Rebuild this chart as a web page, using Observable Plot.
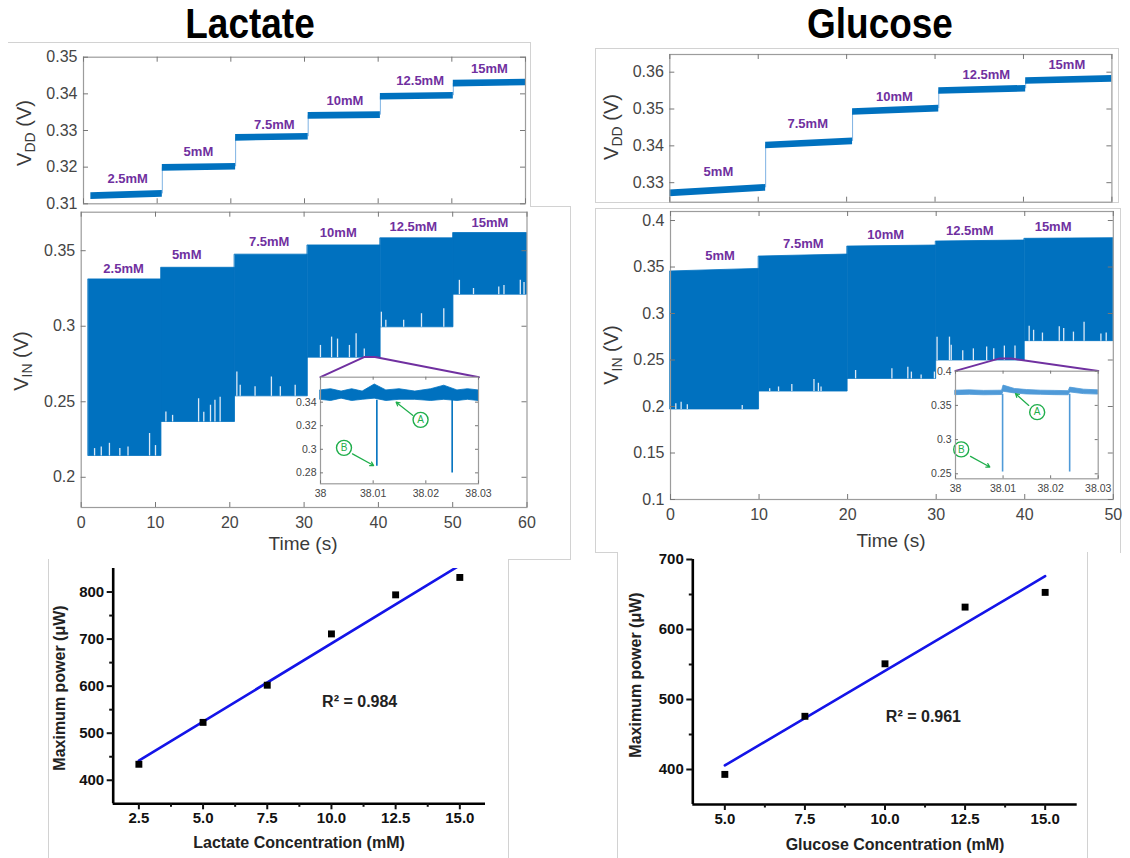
<!DOCTYPE html>
<html><head><meta charset="utf-8">
<script src="https://cdn.jsdelivr.net/npm/d3@7"></script>
<script src="https://cdn.jsdelivr.net/npm/@observablehq/plot@0.6"></script>
<style>
body{margin:0;background:#fff;}
#page{position:relative;width:1130px;height:858px;overflow:hidden;background:#fff;font-family:"Liberation Sans",Arial,sans-serif;}
.layer{position:absolute;left:0;top:0;width:1130px;height:858px;}
.fr{position:absolute;border:0 solid #d2d2d2;box-sizing:border-box;}
.title{position:absolute;top:0px;font-family:"Liberation Sans",Arial,sans-serif;font-weight:bold;font-size:42px;line-height:1.15;color:#000;transform:translateX(-50%) scaleX(0.88);white-space:nowrap;}
.ylab{position:absolute;transform:translate(-50%,-50%) rotate(-90deg);white-space:nowrap;color:#3a3a3a;font-size:20px;line-height:1;}
.ylab sub{font-size:14px;vertical-align:-4px;}
.xlab{position:absolute;transform:translate(-50%,-50%);white-space:nowrap;color:#3a3a3a;font-size:19px;line-height:1;}
.blab{position:absolute;transform:translate(-50%,-50%);white-space:nowrap;color:#222;font-size:16px;font-weight:bold;line-height:1;}
.blabr{position:absolute;transform:translate(-50%,-50%) rotate(-90deg);white-space:nowrap;color:#222;font-size:16px;font-weight:bold;line-height:1;}
</style></head>
<body><div id="page"></div>
<script>
// ---------------- DATA ----------------
// Lactate
const lacConc = ["2.5mM","5mM","7.5mM","10mM","12.5mM","15mM"];
const lacVddT0 = [1.0, 10.7, 20.65, 30.5, 40.3, 50.2];
const lacVddT1 = [10.7, 20.65, 30.5, 40.3, 50.2, 60];
const lacVdd0 = [0.3121, 0.3198, 0.3280, 0.3340, 0.3392, 0.3428];
const lacVdd1 = [0.3127, 0.3201, 0.3283, 0.3342, 0.3395, 0.3431];
const lacVddNoise = 0.0009;
const lacVddLabT = [6.0, 15.6, 25.9, 35.5, 45.7, 55.1];
const lacVddLabV = [0.3168, 0.3243, 0.3316, 0.3382, 0.3436, 0.3468];

const lacVinT0 = [1.0, 10.8, 20.7, 30.5, 40.3, 50.1];
const lacVinT1 = [10.8, 20.7, 30.5, 40.3, 50.1, 60];
const lacVinTop = [0.3310, 0.3387, 0.3474, 0.3535, 0.3582, 0.3617];
const lacVinBot = [0.2141, 0.2366, 0.2536, 0.2792, 0.2993, 0.3209];
const lacVinLabT = [5.7, 14.2, 25.3, 34.6, 44.7, 55.0];
const lacVinLabV = [0.3381, 0.3474, 0.3562, 0.3619, 0.3657, 0.3685];
const lacSpikeT = [1.8,2.7,3.8,5.2,6.3,9.2,10.0, 11.4,12.3,15.8,16.5,17.4,18.0,18.7, 20.95,21.4,23.4,25.6,26.8,28.8, 32.2,33.7,34.5,36.1,37.0,38.1, 40.4,41.0,43.4,45.8,48.8, 50.9,52.8,56.2,56.9,59.1,59.6];
const lacSpikeV = [0.2190,0.2200,0.2225,0.2190,0.2200,0.2290,0.2210, 0.2432,0.2410,0.2520,0.2430,0.2477,0.2510,0.2530, 0.2697,0.2610,0.2600,0.2664,0.2600,0.2610, 0.2873,0.2928,0.2915,0.2873,0.2951,0.2850, 0.3093,0.3040,0.3040,0.3083,0.3116, 0.3304,0.3250,0.3260,0.3270,0.3304,0.3290];
const lacZoomT = [32.2, 38.07, 39.54, 53.54];
const lacZoomV = [0.2663, 0.2796, 0.2796, 0.2663];

const lacInT  = [38.000,38.002,38.004,38.006,38.008,38.0103,38.0125,38.015,38.018,38.021,38.0235,38.026,38.028,38.030];
const lacInHi = [0.350,0.351,0.349,0.351,0.349,0.355,0.350,0.351,0.349,0.351,0.354,0.350,0.351,0.350];
const lacInLo = [0.342,0.341,0.343,0.341,0.342,0.343,0.341,0.342,0.342,0.341,0.342,0.341,0.342,0.341];
const lacInSpikeT = [38.0107, 38.0250];
const lacInSpikeV = [0.2856, 0.2799];
const lacAnnLab = ["A","B"];
const lacAnnT = [38.0190, 38.00446];
const lacAnnV = [0.3250, 0.3012];
const lacArrT1 = [38.01756, 38.00607], lacArrV1 = [0.3287, 0.2961];
const lacArrT2 = [38.01436, 38.01009], lacArrV2 = [0.3400, 0.2862];

const lacX = [2.5, 5, 7.5, 10, 12.5, 15];
const lacP = [434, 523, 602, 711, 794, 831];
const lacR2 = "R\u00B2 = 0.984";

// Glucose
const gluConc = ["5mM","7.5mM","10mM","12.5mM","15mM"];
const gluVddT0 = [0, 10.84, 20.67, 30.42, 40.25];
const gluVddT1 = [10.84, 20.67, 30.42, 40.25, 50];
const gluVdd0 = [0.3271, 0.3401, 0.3492, 0.3549, 0.3576];
const gluVdd1 = [0.3286, 0.3412, 0.3501, 0.3555, 0.3582];
const gluVddNoise = 0.0009;
const gluVddLabT = [5.5, 15.6, 25.4, 35.8, 44.9];
const gluVddLabV = [0.3329, 0.3460, 0.3532, 0.3593, 0.3621];

const gluVinT0 = [0, 10, 20, 30, 40];
const gluVinT1 = [10, 20, 30, 40, 50];
const gluVinTop0 = [0.3452, 0.3613, 0.3720, 0.3774, 0.3803];
const gluVinTop1 = [0.3480, 0.3634, 0.3731, 0.3785, 0.3810];
const gluVinBot = [0.1968, 0.2161, 0.2297, 0.2495, 0.2703];
const gluVinLabT = [5.6, 15.0, 24.3, 33.8, 43.2];
const gluVinLabV = [0.3624, 0.3749, 0.3846, 0.3892, 0.3928];
const gluSpikeT = [0.6,1.2,1.9,8.1, 11.2,12.2,13.7,16.2,16.7,17.0, 20.9,25.0,26.8,27.2,28.3,29.8, 30.1,31.5,31.7,33.0,34.2,35.7,36.5,37.7,38.9, 40.5,41.0,42.0,43.9,44.4,45.5,46.7,48.6,49.2];
const gluSpikeV = [0.2029,0.2047,0.2020,0.2011, 0.2190,0.2210,0.2237,0.2290,0.2250,0.2210, 0.2387,0.2405,0.2423,0.2370,0.2340,0.2370, 0.2746,0.2746,0.2660,0.2600,0.2620,0.2640,0.2620,0.2650,0.2650, 0.2864,0.2820,0.2790,0.2857,0.2840,0.2800,0.2907,0.2780,0.2790];
const gluZoomT = [32.18, 37.07, 38.58, 48.3];
const gluZoomV = [0.2383, 0.2515, 0.2515, 0.2383];

const gluInT  = [38.000,38.003,38.006,38.0098,38.0101,38.0125,38.015,38.018,38.021,38.0238,38.0241,38.027,38.030];
const gluInHi = [0.3715,0.3720,0.3712,0.3715,0.3790,0.3740,0.3725,0.3715,0.3712,0.3708,0.3760,0.3730,0.3720];
const gluInLo = [0.3650,0.3655,0.3648,0.3652,0.3700,0.3675,0.3660,0.3655,0.3650,0.3648,0.3690,0.3665,0.3658];
const gluInSpikeT = [38.0099, 38.0240];
const gluInSpikeV = [0.2526, 0.2526];
const gluAnnLab = ["A","B"];
const gluAnnT = [38.01717, 38.0012];
const gluAnnV = [0.3401, 0.2857];
const gluArrT1 = [38.0154, 38.00315], gluArrV1 = [0.3499, 0.2755];
const gluArrT2 = [38.01261, 38.00722], gluArrV2 = [0.3672, 0.2599];

const gluX = [5, 7.5, 10, 12.5, 15];
const gluP = [393, 476, 551, 632, 653];
const gluR2 = "R\u00B2 = 0.961";

// Tick values
const lacVddTicksY = [0.31, 0.32, 0.33, 0.34, 0.35];
const lacTimeTicks = [0, 10, 20, 30, 40, 50, 60];
const lacVinTicksY = [0.2, 0.25, 0.3, 0.35];
const lacInTicksY = [0.28, 0.3, 0.32, 0.34];
const inTicksX = [38, 38.01, 38.02, 38.03];
const gluVddTicksY = [0.33, 0.34, 0.35, 0.36];
const gluTimeTicks = [0, 10, 20, 30, 40, 50];
const gluVinTicksY = [0.1, 0.15, 0.2, 0.25, 0.3, 0.35, 0.4];
const gluInTicksY = [0.25, 0.3, 0.35, 0.4];
const lacPowTicksX = [2.5, 5, 7.5, 10, 12.5, 15];
const lacPowMinorX = [3.75, 6.25, 8.75, 11.25, 13.75];
const lacPowTicksY = [400, 500, 600, 700, 800];
const lacPowMinorY = [450, 550, 650, 750];
const gluPowTicksX = [5, 7.5, 10, 12.5, 15];
const gluPowMinorX = [6.25, 8.75, 11.25, 13.75];
const gluPowTicksY = [400, 500, 600, 700];
const gluPowMinorY = [450, 550, 650];

// ---------------- DRAWING ----------------
const W = 1130, H = 858;
const BLUE = "#0071bf", LBLUE = "#4f9ad8", PURPLE = "#7030a0", GREEN = "#1fae4b";
const FONT = "'Liberation Sans', Arial, Helvetica, sans-serif";
const page = document.getElementById("page");
const fmt = d => String(+(+d).toFixed(4));

function layer(svg){ const div = document.createElement("div"); div.className = "layer"; div.appendChild(svg); page.appendChild(div); }
function html(cls, css, inner){ const d = document.createElement("div"); d.className = cls; d.style.cssText = css; d.innerHTML = inner || ""; page.appendChild(d); }

function matlabPanel(o){
  const fw = o.box[2]-o.box[0], fh = o.box[3]-o.box[1], tl = o.tickLen;
  const marks = [];
  if (o.bgWhite) marks.push(Plot.frame({fill: "white"}));
  marks.push(...o.marks);
  marks.push(Plot.frame({stroke: "#9c9c9c", strokeWidth: 1.2}));
  marks.push(Plot.tickY(o.yt, {y: d => d, insetRight: fw - tl, stroke: "#777"}));
  marks.push(Plot.tickY(o.yt, {y: d => d, insetLeft: fw - tl, stroke: "#777"}));
  marks.push(Plot.tickX(o.xt, {x: d => d, insetBottom: fh - tl, stroke: "#777"}));
  marks.push(Plot.tickX(o.xt, {x: d => d, insetTop: fh - tl, stroke: "#777"}));
  marks.push(Plot.axisY(o.yt, {tickSize: 0, tickPadding: o.yPad, tickFormat: fmt, fontSize: o.fs, label: null}));
  if (o.xLabels) marks.push(Plot.axisX(o.xt, {tickSize: 0, tickPadding: o.xPad, tickFormat: fmt, fontSize: o.fs, label: null}));
  return Plot.plot({
    width: W, height: H,
    marginLeft: o.box[0], marginTop: o.box[1], marginRight: W - o.box[2], marginBottom: H - o.box[3],
    x: {domain: o.xd, axis: o.xLabels ? undefined : null}, y: {domain: o.yd},
    style: {fontFamily: FONT, color: "#454545", background: "transparent", overflow: "visible"},
    marks
  });
}

function vddMarks(T0, T1, V0, V1, noise, conc, labT, labV){
  const rows = [];
  T0.forEach((t, i) => {
    rows.push({seg: i, t: T0[i], lo: V0[i] - noise, hi: V0[i] + noise});
    rows.push({seg: i, t: T1[i], lo: V1[i] - noise, hi: V1[i] + noise});
  });
  const steps = d3.range(1, T0.length);
  return [
    Plot.ruleX(steps, {x: i => T0[i], y1: i => V1[i-1], y2: i => V0[i], stroke: "#7fb3e3", strokeWidth: 1}),
    Plot.areaY(rows, {x: "t", y1: "lo", y2: "hi", z: "seg", fill: BLUE}),
    Plot.text(conc, {x: (d, i) => labT[i], y: (d, i) => labV[i], text: d => d, fill: PURPLE, fontWeight: "bold", fontSize: 13})
  ];
}

function vinMarks(T0, T1, top0, top1, bot, spT, spV, conc, labT, labV, zT, zV){
  const rows = [];
  T0.forEach((t, i) => {
    rows.push({seg: i, t: T0[i], lo: bot[i], hi: top0[i]});
    rows.push({seg: i, t: T1[i], lo: bot[i], hi: top1[i]});
  });
  const segOf = t => d3.bisectRight(T0, t) - 1;
  return [
    Plot.areaY(rows, {x: "t", y1: "lo", y2: "hi", z: "seg", fill: BLUE, stroke: BLUE, strokeWidth: 0.8}),
    Plot.ruleX(d3.range(spT.length), {x: i => spT[i], y1: i => bot[segOf(spT[i])], y2: i => spV[i], stroke: "#dce9f6", strokeWidth: 1.3}),
    Plot.text(conc, {x: (d, i) => labT[i], y: (d, i) => labV[i], text: d => d, fill: PURPLE, fontWeight: "bold", fontSize: 13}),
    Plot.line(d3.range(zT.length), {x: i => zT[i], y: i => zV[i], stroke: PURPLE, strokeWidth: 2})
  ];
}

function insetMarks(T, hi, lo, col, spT, spV, ann, annT, annV, aT1, aV1, aT2, aV2){
  const idx = d3.range(T.length);
  const base = d3.mean(lo);
  return [
    Plot.areaY(idx, {x: i => T[i], y1: i => lo[i], y2: i => hi[i], fill: col, stroke: col, strokeWidth: 0.8}),
    Plot.ruleX(d3.range(spT.length), {x: i => spT[i], y1: () => base, y2: i => spV[i], stroke: col, strokeWidth: 1.6}),
    Plot.arrow(d3.range(ann.length), {x1: i => aT1[i], y1: i => aV1[i], x2: i => aT2[i], y2: i => aV2[i], stroke: GREEN, strokeWidth: 1.2, headLength: 5}),
    Plot.dot(ann, {x: (d, i) => annT[i], y: (d, i) => annV[i], r: 7.5, stroke: GREEN, strokeWidth: 1.4, fill: "white"}),
    Plot.text(ann, {x: (d, i) => annT[i], y: (d, i) => annV[i], text: d => d, fill: GREEN, fontSize: 10})
  ];
}

function powerPanel(o){
  const rows = o.X.map((x, i) => ({x, p: o.P[i]}));
  return Plot.plot({
    width: W, height: H,
    marginLeft: o.box[0], marginTop: o.box[1], marginRight: W - o.box[2], marginBottom: H - o.box[3],
    x: {domain: o.xd}, y: {domain: o.yd},
    style: {fontFamily: FONT, color: "#111", background: "transparent", overflow: "visible"},
    marks: [
      Plot.linearRegressionY(rows, {x: "x", y: "p", ci: 0, stroke: "#1414e8", strokeWidth: 2.6, clip: true}),
      Plot.dot(rows, {x: "x", y: "p", symbol: "square", r: 3.9, fill: "#000"}),
      Plot.ruleY([o.yd[0]], {stroke: "#000", strokeWidth: 2.6}),
      Plot.ruleX([o.xd[0]], {stroke: "#000", strokeWidth: 2.6}),
      Plot.axisX(o.xt, {tickSize: 6, strokeWidth: 2, tickPadding: 3, fontSize: 15, fontWeight: "bold", tickFormat: d => d.toFixed(1), label: null}),
      Plot.axisX(o.xm, {tickSize: 3.5, strokeWidth: 2, tickFormat: () => "", label: null}),
      Plot.axisY(o.yt, {tickSize: 6, strokeWidth: 2, tickPadding: 3, fontSize: 15, fontWeight: "bold", label: null}),
      Plot.axisY(o.ym, {tickSize: 3.5, strokeWidth: 2, tickFormat: () => "", label: null}),
      Plot.text([o.r2], {x: () => o.r2x, y: () => o.r2y, text: d => d, fontSize: 16, fontWeight: "bold", fill: "#222"})
    ]
  });
}

// image borders (light gray frames of the sub-figures)
html("fr", "left:8px;top:42px;width:523px;height:165px;border-top-width:1px;border-right-width:1px;");
html("fr", "left:530px;top:206px;width:41px;height:354px;border-top-width:1px;border-right-width:1px;");
html("fr", "left:508px;top:559px;width:63px;height:1px;border-top-width:1px;");
html("fr", "left:48px;top:559px;width:461px;height:300px;border-left-width:1px;border-right-width:1px;");
html("fr", "left:595px;top:48px;width:524px;height:155px;border-width:1px;");
html("fr", "left:595px;top:208px;width:526px;height:345px;border-left-width:1px;border-top-width:1px;border-right-width:1px;");
html("fr", "left:595px;top:552px;width:23px;height:1px;border-top-width:1px;");
html("fr", "left:617px;top:552px;width:471px;height:306px;border-left-width:1px;border-right-width:1px;");

// Lactate column
layer(matlabPanel({box: [83, 56.7, 525, 203.3], xd: [0, 60], yd: [0.31, 0.35], xt: lacTimeTicks, yt: lacVddTicksY,
  tickLen: 5, fs: 16, yPad: 6, xLabels: false,
  marks: vddMarks(lacVddT0, lacVddT1, lacVdd0, lacVdd1, lacVddNoise, lacConc, lacVddLabT, lacVddLabV)}));
layer(matlabPanel({box: [80.7, 211.7, 526.5, 507], xd: [0, 60], yd: [0.18, 0.3755], xt: lacTimeTicks, yt: lacVinTicksY,
  tickLen: 5, fs: 16, yPad: 6, xPad: 9, xLabels: true,
  marks: vinMarks(lacVinT0, lacVinT1, lacVinTop, lacVinTop, lacVinBot, lacSpikeT, lacSpikeV, lacConc, lacVinLabT, lacVinLabV, lacZoomT, lacZoomV)}));
layer(matlabPanel({box: [320, 376.7, 478, 483.3], xd: [38, 38.03], yd: [0.2707, 0.3612], xt: inTicksX, yt: lacInTicksY,
  tickLen: 3, fs: 10.5, yPad: 4, xPad: 6, xLabels: true, bgWhite: true,
  marks: insetMarks(lacInT, lacInHi, lacInLo, BLUE, lacInSpikeT, lacInSpikeV, lacAnnLab, lacAnnT, lacAnnV, lacArrT1, lacArrV1, lacArrT2, lacArrV2)}));
layer(powerPanel({box: [112.7, 568, 485, 803.3], xd: [1.5, 16], yd: [350, 850], xt: lacPowTicksX, xm: lacPowMinorX,
  yt: lacPowTicksY, ym: lacPowMinorY, X: lacX, P: lacP, r2: lacR2, r2x: 11.1, r2y: 566}));

// Glucose column
layer(matlabPanel({box: [669.3, 54, 1111.4, 201.7], xd: [0, 50], yd: [0.3247, 0.3648], xt: gluTimeTicks, yt: gluVddTicksY,
  tickLen: 5, fs: 16, yPad: 6, xLabels: false,
  marks: vddMarks(gluVddT0, gluVddT1, gluVdd0, gluVdd1, gluVddNoise, gluConc, gluVddLabT, gluVddLabV)}));
layer(matlabPanel({box: [670, 211, 1112.8, 499], xd: [0, 50], yd: [0.1, 0.4097], xt: gluTimeTicks, yt: gluVinTicksY,
  tickLen: 5, fs: 16, yPad: 6, xPad: 9, xLabels: true,
  marks: vinMarks(gluVinT0, gluVinT1, gluVinTop0, gluVinTop1, gluVinBot, gluSpikeT, gluSpikeV, gluConc, gluVinLabT, gluVinLabV, gluZoomT, gluZoomV)}));
layer(matlabPanel({box: [955, 370.7, 1097.7, 478.3], xd: [38, 38.03], yd: [0.2427, 0.4], xt: inTicksX, yt: gluInTicksY,
  tickLen: 3, fs: 10.5, yPad: 4, xPad: 6, xLabels: true, bgWhite: true,
  marks: insetMarks(gluInT, gluInHi, gluInLo, LBLUE, gluInSpikeT, gluInSpikeV, gluAnnLab, gluAnnT, gluAnnV, gluArrT1, gluArrV1, gluArrT2, gluArrV2)}));
layer(powerPanel({box: [692.3, 559, 1076.7, 804], xd: [4, 16], yd: [350, 700], xt: gluPowTicksX, xm: gluPowMinorX,
  yt: gluPowTicksY, ym: gluPowMinorY, X: gluX, P: gluP, r2: gluR2, r2x: 11.2, r2y: 474.6}));

// Titles and axis labels
html("title", "left:250px;", "Lactate");
html("title", "left:880px;", "Glucose");
html("ylab", "left:25px;top:133px;", "V<sub>DD</sub> (V)");
html("ylab", "left:22px;top:361px;", "V<sub>IN</sub> (V)");
html("ylab", "left:612px;top:127px;", "V<sub>DD</sub> (V)");
html("ylab", "left:612px;top:355px;", "V<sub>IN</sub> (V)");
html("xlab", "left:303px;top:543px;", "Time (s)");
html("xlab", "left:891px;top:540px;", "Time (s)");
html("blabr", "left:60px;top:688px;", "Maximum power (\u03BCW)");
html("blabr", "left:636px;top:675px;", "Maximum power (\u03BCW)");
html("blab", "left:299px;top:843px;", "Lactate Concentration (mM)");
html("blab", "left:895px;top:845px;", "Glucose Concentration (mM)");
</script>
</body></html>
